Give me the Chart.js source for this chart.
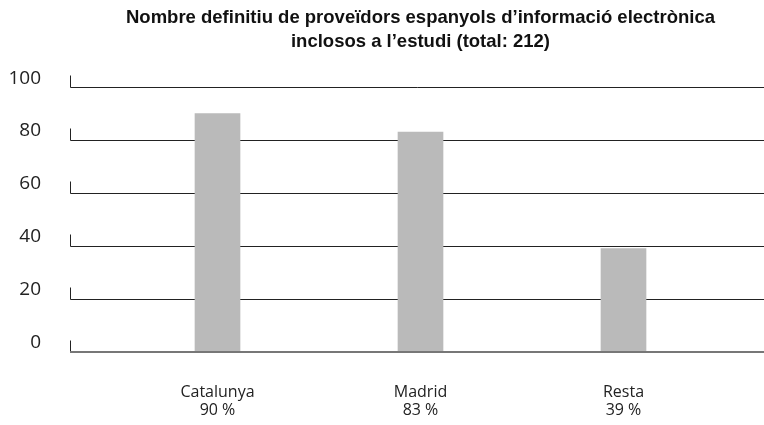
<!DOCTYPE html>
<html>
<head>
<meta charset="utf-8">
<script src="https://cdn.jsdelivr.net/npm/chart.js@4"></script>
<style>
  html, body { margin: 0; padding: 0; background: #fff; }
  #wrap { width: 764px; height: 425px; }
</style>
</head>
<body>
<div id="wrap"><canvas id="chart" width="764" height="425"></canvas></div>
<script>
var regions = ["Catalunya", "Madrid", "Resta"];
var providers = [90, 83, 39];
var shareLabels = ["90 %", "83 %", "39 %"];
var yTicks = [0, 20, 40, 60, 80, 100];

// gridlines run wider than the plot area, with a little hook at the left end
var hookGrid = {
    id: "hookGrid",
    beforeDatasetsDraw: function (chart) {
        var ctx = chart.ctx;
        var y = chart.scales.y;
        ctx.save();
        ctx.strokeStyle = "#222";
        ctx.lineWidth = 1;
        yTicks.forEach(function (t) {
            var py = Math.round(y.getPixelForValue(t)) + 0.5;
            ctx.beginPath();
            ctx.moveTo(70.5, py - 12);
            ctx.lineTo(70.5, py);
            if (t > 0) ctx.lineTo(chart.width, py);
            ctx.stroke();
        });
        ctx.restore();
    },
    afterDatasetsDraw: function (chart) {
        var ctx = chart.ctx;
        var py = Math.round(chart.scales.y.getPixelForValue(0));
        ctx.save();
        ctx.strokeStyle = "#777";
        ctx.lineWidth = 2;
        ctx.beginPath();
        ctx.moveTo(70, py);
        ctx.lineTo(chart.width, py);
        ctx.stroke();
        ctx.restore();
    }
};

var ctx = document.getElementById("chart").getContext("2d");
var myChart = new Chart(ctx, {
    type: "bar",
    data: {
        labels: regions.map(function (r, i) { return [r, shareLabels[i]]; }),
        datasets: [{
            data: providers,
            backgroundColor: "#bababa",
            barThickness: 45
        }]
    },
    options: {
        responsive: false,
        animation: false,
        layout: { padding: { left: 0, right: 39, top: 0, bottom: 0 } },
        plugins: {
            legend: { display: false },
            tooltip: { enabled: false },
            title: {
                display: true,
                fullSize: false,
                text: ["Nombre definitiu de proveïdors espanyols d\u2019informació electrònica",
                       "inclosos a l\u2019estudi (total: 212)"],
                color: "#111",
                font: { family: "'Liberation Sans', Arial, sans-serif", size: 18.5, weight: "bold", lineHeight: 1.3 },
                padding: { top: 6, bottom: 33 }
            }
        },
        scales: {
            x: {
                grid: { display: false, drawTicks: false },
                border: { display: false },
                ticks: {
                    color: "#222",
                    padding: 31,
                    font: { family: "'Open Sans', sans-serif", size: 16, lineHeight: 1.15 }
                },
                afterFit: function (s) {
                    s.height = 73;
                    s.paddingLeft = 0;
                    s.paddingRight = 0;
                }
            },
            y: {
                min: 0,
                max: 100,
                grid: { display: false, drawTicks: false },
                border: { display: false },
                ticks: {
                    stepSize: 20,
                    color: "#222",
                    padding: 75,
                    labelOffset: -9,
                    font: { family: "'Open Sans', sans-serif", size: 19 }
                },
                afterFit: function (s) {
                    s.width = 116;
                    s.paddingTop = 0;
                    s.paddingBottom = 0;
                }
            }
        }
    },
    plugins: [hookGrid]
});
</script>
</body>
</html>
